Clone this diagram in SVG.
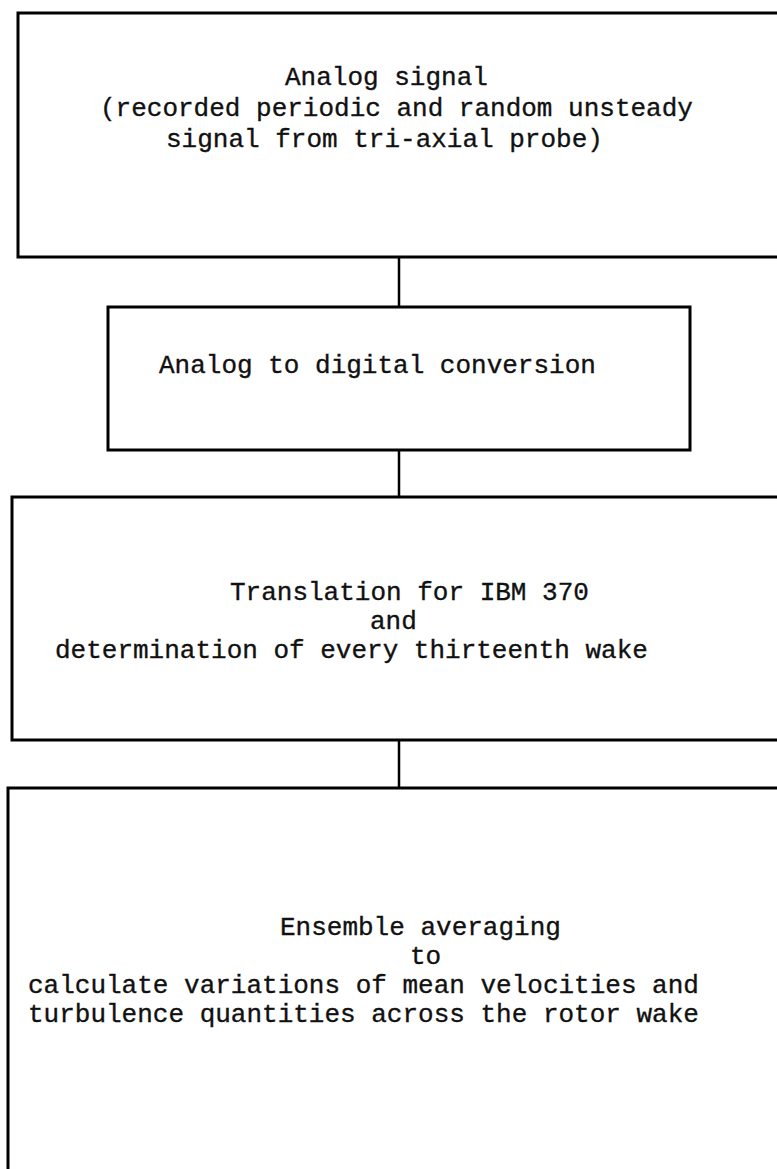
<svg xmlns="http://www.w3.org/2000/svg" width="777" height="1169" viewBox="0 0 777 1169">
  <style>
    .box { fill: none; stroke: #000; stroke-width: 3; }
    .wire { fill: none; stroke: #000; stroke-width: 2.5; }
    .lbl { font-family: "Liberation Mono", "Courier New", monospace; font-size: 26px; fill: #111; stroke: #111; stroke-width: 0.35; }
  </style>
  <rect width="777" height="1169" fill="#fff"/>

  <g id="connectors">
    <line class="wire" x1="399" y1="257" x2="399" y2="307"/>
    <line class="wire" x1="399" y1="450" x2="399" y2="497"/>
    <line class="wire" x1="399" y1="740" x2="399" y2="788"/>
  </g>

  <g id="analog-signal">
    <rect class="box" x="18" y="13" width="790" height="244"/>
    <text class="lbl" x="285" y="85">Analog signal</text>
    <text class="lbl" x="100" y="116">(recorded periodic and random unsteady</text>
    <text class="lbl" x="166" y="147">signal from tri-axial probe)</text>
  </g>

  <g id="ad-conversion">
    <rect class="box" x="108" y="307" width="582" height="143"/>
    <text class="lbl" x="159" y="373">Analog to digital conversion</text>
  </g>

  <g id="translation">
    <rect class="box" x="12" y="497" width="790" height="243"/>
    <text class="lbl" x="230" y="600">Translation for IBM 370</text>
    <text class="lbl" x="370" y="629">and</text>
    <text class="lbl" x="55" y="658">determination of every thirteenth wake</text>
  </g>

  <g id="ensemble-averaging">
    <rect class="box" x="8" y="788" width="790" height="420"/>
    <text class="lbl" x="280" y="935">Ensemble averaging</text>
    <text class="lbl" x="410" y="964">to</text>
    <text class="lbl" x="28" y="993">calculate variations of mean velocities and</text>
    <text class="lbl" x="28" y="1022">turbulence quantities across the rotor wake</text>
  </g>
</svg>
